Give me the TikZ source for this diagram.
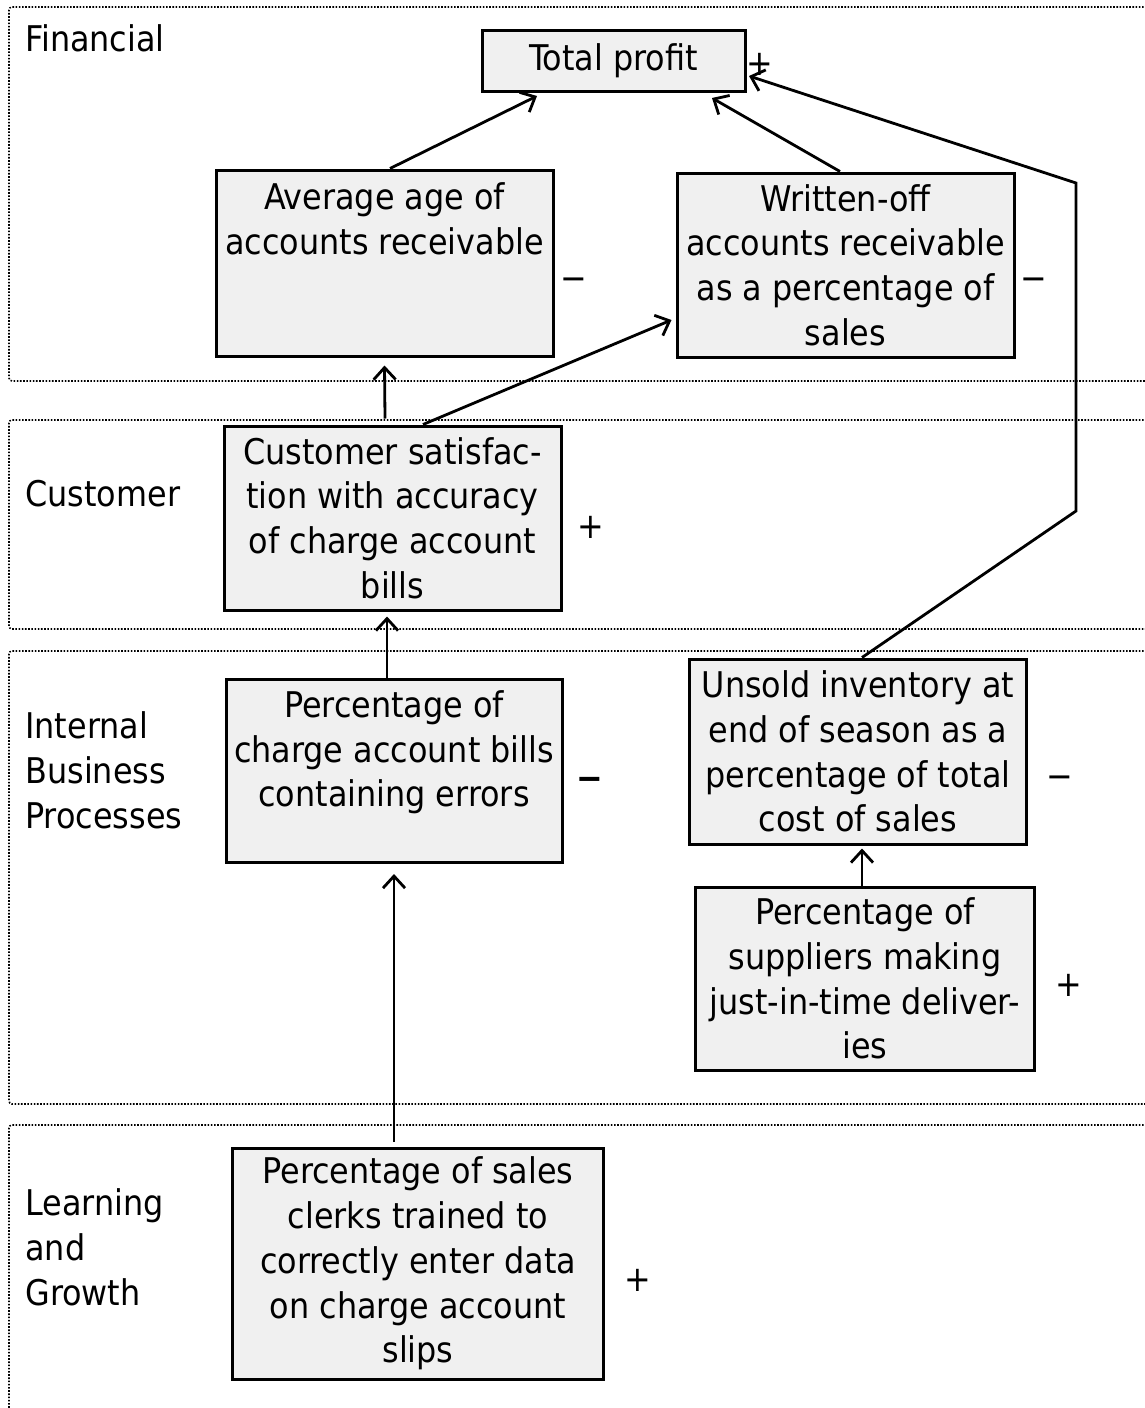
\documentclass[tikz,border=0pt]{standalone}
\usepackage{fontspec}
\setmainfont{DejaVu Sans Condensed}
\usetikzlibrary{arrows.meta}
\definecolor{boxgray}{HTML}{F0F0F0}

\begin{document}
\begin{tikzpicture}[x=0.5pt,y=-0.5pt,
  lane/.style={draw, line width=0.8pt, dash pattern=on 0.8pt off 0.8pt, rounded corners=1.5pt},
  kpi/.style={draw, line width=1.5pt, fill=boxgray, align=center, inner sep=0pt,
    font=\fontsize{17.7}{22.4}\selectfont},
  lbl/.style={anchor=west, align=left, inner sep=0pt, font=\fontsize{17.7}{22.4}\selectfont},
  sgn/.style={inner sep=0pt, font=\fontsize{17.7}{22.4}\selectfont},
  link/.style={line width=1.4pt, -{Straight Barb[length=6pt,width=11pt]}}
]
\useasboundingbox (0,0) rectangle (1145,1408);

% perspective lanes
\draw[lane] (1150,7) -- (9,7) -- (9,381) -- (1150,381);
\draw[lane] (1150,420) -- (9,420) -- (9,629) -- (1150,629);
\draw[lane] (1150,651) -- (9,651) -- (9,1104) -- (1150,1104);
\draw[lane] (1150,1125) -- (9,1125) -- (9,1420);

% lane titles
\node[lbl] (lfin) at (25,38) {Financial};
\node[lbl] (lcus) at (25,494) {Customer};
\node[lbl] (lint) at (25,770) {Internal\\Business\\Processes};
\node[lbl] (llrn) at (25,1247) {Learning\\and\\Growth};

% measures
\node[kpi, minimum width=131.5pt, minimum height=30.5pt] (tp) at (613.5,61) {Total profit};
\node[kpi, minimum width=168.5pt, minimum height=93pt] (avg) at (384.5,263)
  {Average age of\\accounts receivable\\~\\~};
\node[kpi, minimum width=168.5pt, minimum height=92pt] (wo) at (845.5,265)
  {Written-off\\accounts receivable\\as a percentage of\\sales};
\node[kpi, minimum width=168.5pt, minimum height=92pt] (cs) at (392.5,518)
  {Customer satisfac-\\tion with accuracy\\of charge account\\bills};
\node[kpi, minimum width=168pt, minimum height=91.5pt] (err) at (394,771)
  {Percentage of\\charge account bills\\containing errors\\~};
\node[kpi, minimum width=168.5pt, minimum height=92.5pt] (uns) at (858,751.5)
  {Unsold inventory at\\end of season as a\\percentage of total\\cost of sales};
\node[kpi, minimum width=169.5pt, minimum height=91.5pt] (sup) at (865,978.5)
  {Percentage of\\suppliers making\\just-in-time deliver-\\ies};
\node[kpi, minimum width=185.5pt, minimum height=115.5pt] (lrn) at (418,1263.5)
  {Percentage of sales\\clerks trained to\\correctly enter data\\on charge account\\slips};

% signs of the effects
\node[sgn] (stp) at (760,64) {+};
\node[sgn] (savg) at (574,284) {−};
\node[sgn] (swo) at (1034,284) {−};
\node[sgn] (scs) at (591,527) {+};
\node[sgn] (serr) at (590,784) {\textbf{−}};
\node[sgn] (suns) at (1060,782) {−};
\node[sgn] (ssup) at (1069,985) {+};
\node[sgn] (slrn) at (638,1280) {+};

% cause-and-effect links
\coordinate (b1) at (1076,511);
\coordinate (b2) at (1076,183);
\draw[link] ([xshift=2.75pt]avg.north) -- ([xshift=-38.25pt,yshift=-1.5pt]tp.south);
\draw[link] ([xshift=-2.75pt]wo.north) -- ([xshift=49.25pt,yshift=-2.5pt]tp.south);
\draw[link] ([xshift=2pt]uns.north) -- (b1) -- (b2) -- ([xshift=1.25pt,yshift=-7.5pt]tp.east);
\draw[link] ([xshift=-3.75pt,yshift=3pt]cs.north) -- ([yshift=-4pt]avg.south);
\draw[link] ([xshift=15.25pt]cs.north) -- ([xshift=-2pt,yshift=-27.5pt]wo.west);
\draw[link] ([xshift=-3.5pt]err.north) -- ([xshift=-2.75pt,yshift=-2.5pt]cs.south);
\draw[link] ([xshift=-12pt,yshift=2.5pt]lrn.north) -- ([yshift=-5pt]err.south);
\draw[link] ([xshift=-1.5pt]sup.north) -- ([xshift=2pt,yshift=-1.5pt]uns.south);
\end{tikzpicture}
\end{document}
